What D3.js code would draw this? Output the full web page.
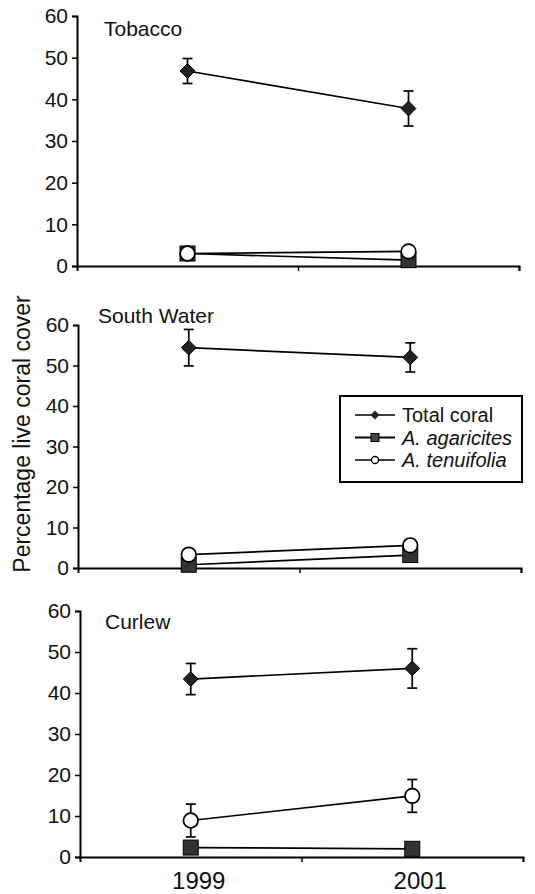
<!DOCTYPE html>
<html>
<head>
<meta charset="utf-8">
<script src="https://cdn.jsdelivr.net/npm/d3@7"></script>
<style>
  body { margin: 0; background: #fff; }
  text { font-family: "Liberation Sans", Arial, sans-serif; fill: #111; }
</style>
</head>
<body>
<svg id="chart" width="535" height="894"></svg>
<script>
var years = [1999, 2001];
var sites = ["Tobacco", "South Water", "Curlew"];
var yTicks = [0, 10, 20, 30, 40, 50, 60];
var xTickLabels = ["1999", "2001"];

// per site: values at 1999, 2001 and their error half-widths
var totalCoral = [[46.8, 37.8], [54.4, 52.0], [43.4, 46.0]];
var totalCoralErr = [[3.0, 4.2], [4.5, 3.6], [3.8, 4.8]];
var agaricites = [[3.0, 1.4], [0.8, 3.2], [2.3, 2.0]];
var agaricitesErr = [[0.4, 0.4], [0.4, 0.6], [0.4, 0.4]];
var tenuifolia = [[3.0, 3.5], [3.3, 5.6], [8.9, 14.9]];
var tenuifoliaErr = [[0.4, 0.5], [0.6, 1.4], [4.0, 4.0]];

var seriesNames = ["Total coral", "A. agaricites", "A. tenuifolia"];

var svg = d3.select("#chart");

// panel frames (pixel boxes)
var panels = [
  {left: 77, right: 519, top: 16, bottom: 266, titleX: 104, titleY: 36},
  {left: 78, right: 521, top: 325, bottom: 568, titleX: 98, titleY: 323},
  {left: 80, right: 523, top: 611, bottom: 857, titleX: 105, titleY: 629}
];

var dark = "#222";

function drawMarker(g, kind, x, y) {
  if (kind === 0) {
    g.append("path")
      .attr("d", d3.symbol(d3.symbolDiamond2, 140)())
      .attr("transform", "translate(" + x + "," + y + ")")
      .attr("fill", dark).attr("stroke", "#000").attr("stroke-width", 1);
  } else if (kind === 1) {
    g.append("rect")
      .attr("x", x - 7.5).attr("y", y - 7.5)
      .attr("width", 15).attr("height", 15)
      .attr("fill", "#333").attr("stroke", "#000").attr("stroke-width", 1);
  } else {
    g.append("circle")
      .attr("cx", x).attr("cy", y).attr("r", 7.3)
      .attr("fill", "#fff").attr("stroke", "#000").attr("stroke-width", 1.7);
  }
}

panels.forEach(function (p, i) {
  var x = d3.scaleLinear().domain([1998, 2002]).range([p.left, p.right]);
  var y = d3.scaleLinear().domain([0, 60]).range([p.bottom, p.top]);
  var g = svg.append("g");

  // y axis
  var ya = g.append("g")
    .attr("transform", "translate(" + p.left + ",0)")
    .call(d3.axisLeft(y).tickValues(yTicks).tickSize(5).tickPadding(4));
  ya.select(".domain").attr("stroke-width", 2).attr("stroke", "#000");
  ya.selectAll(".tick line").attr("stroke-width", 1.5);
  ya.selectAll(".tick text")
    .style("font-family", "'Liberation Sans', Arial, sans-serif")
    .style("font-size", "21px").attr("fill", "#111");

  // x axis
  var xa = g.append("g")
    .attr("transform", "translate(0," + p.bottom + ")")
    .call(d3.axisBottom(x).tickValues([2000, 2002]).tickSize(5).tickFormat(""));
  xa.select(".domain").attr("stroke-width", 2).attr("stroke", "#000");
  xa.selectAll(".tick line").attr("stroke-width", 1.5);

  if (i === panels.length - 1) {
    g.selectAll(".xlab").data(years).enter().append("text")
      .attr("x", function (d) { return x(d) + 8; })
      .attr("y", p.bottom + 32)
      .attr("text-anchor", "middle")
      .style("font-size", "24px")
      .text(function (d, k) { return xTickLabels[k]; });
  }

  g.append("text")
    .attr("x", p.titleX).attr("y", p.titleY)
    .style("font-size", "21px")
    .text(sites[i]);

  var groups = [
    [agaricites[i], agaricitesErr[i]],
    [tenuifolia[i], tenuifoliaErr[i]],
    [totalCoral[i], totalCoralErr[i]]
  ];
  var kinds = [1, 2, 0];
  var line = d3.line().x(function (d) { return x(d[0]); }).y(function (d) { return y(d[1]); });

  // lines first
  [2, 0, 1].forEach(function (s) {
    var vals = groups[s][0];
    g.append("path")
      .datum(years.map(function (yr, k) { return [yr, vals[k]]; }))
      .attr("d", line)
      .attr("fill", "none").attr("stroke", "#000").attr("stroke-width", 1.7);
  });

  // error bars
  [2, 0, 1].forEach(function (s) {
    var vals = groups[s][0], errs = groups[s][1];
    years.forEach(function (yr, k) {
      var cx = x(yr), lo = y(vals[k] - errs[k]), hi = y(vals[k] + errs[k]);
      g.append("line").attr("x1", cx).attr("x2", cx).attr("y1", lo).attr("y2", hi)
        .attr("stroke", "#000").attr("stroke-width", 1.7);
      [lo, hi].forEach(function (yy) {
        g.append("line").attr("x1", cx - 5).attr("x2", cx + 5).attr("y1", yy).attr("y2", yy)
          .attr("stroke", "#000").attr("stroke-width", 1.7);
      });
    });
  });
  // markers
  [2, 0, 1].forEach(function (s) {
    var vals = groups[s][0];
    years.forEach(function (yr, k) {
      drawMarker(g, kinds[s], x(yr), y(vals[k]));
    });
  });
});

// y-axis title
svg.append("text")
  .attr("transform", "translate(30,434) rotate(-90)")
  .attr("text-anchor", "middle")
  .style("font-size", "23px")
  .text("Percentage live coral cover");

// legend
var leg = svg.append("g").attr("transform", "translate(340,396)");
leg.append("rect").attr("width", 182).attr("height", 86)
  .attr("fill", "#fff").attr("stroke", "#000").attr("stroke-width", 2);
var legKinds = [0, 1, 2];
seriesNames.forEach(function (name, k) {
  var ly = 19 + k * 22.5;
  leg.append("line").attr("x1", 15).attr("x2", 55).attr("y1", ly).attr("y2", ly)
    .attr("stroke", "#000").attr("stroke-width", k === 1 ? 2 : 1.3);
  var mg = leg.append("g");
  if (legKinds[k] === 0) {
    mg.append("path").attr("d", d3.symbol(d3.symbolDiamond2, 50)())
      .attr("transform", "translate(35," + ly + ")").attr("fill", dark);
  } else if (legKinds[k] === 1) {
    mg.append("rect").attr("x", 31).attr("y", ly - 4).attr("width", 8).attr("height", 8)
      .attr("fill", "#444").attr("stroke", "#000");
  } else {
    mg.append("circle").attr("cx", 35).attr("cy", ly).attr("r", 3.5)
      .attr("fill", "#fff").attr("stroke", "#000").attr("stroke-width", 1.3);
  }
  leg.append("text").attr("x", 62).attr("y", ly + 7)
    .style("font-size", "20px")
    .style("font-style", k === 0 ? "normal" : "italic")
    .text(name);
});
</script>
</body>
</html>
